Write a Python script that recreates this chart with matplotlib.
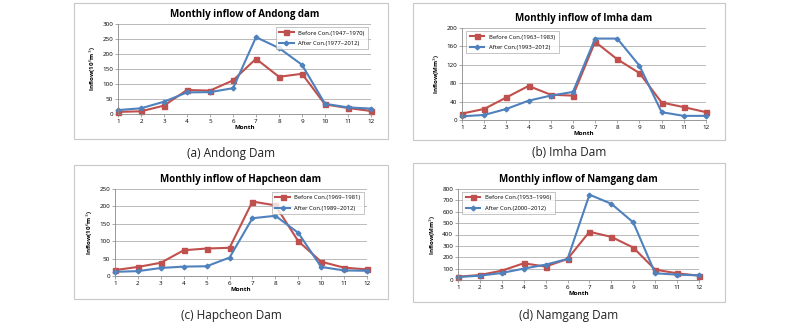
import matplotlib.pyplot as plt
from matplotlib.patches import Rectangle
import numpy as np

plt.rcParams['font.family'] = ['Open Sans', 'DejaVu Sans']

months = np.arange(1, 13)

andong_before = [7, 9, 28, 80, 78, 112, 184, 124, 134, 32, 20, 10]
andong_after = [13, 19, 41, 72, 73, 86, 256, 220, 164, 34, 22, 18]
imha_before = [14, 24, 49, 74, 55, 53, 170, 132, 102, 38, 28, 17]
imha_after = [8, 11, 24, 42, 53, 61, 177, 177, 118, 17, 9, 9]
hapcheon_before = [17, 26, 38, 74, 79, 81, 214, 203, 100, 41, 24, 19]
hapcheon_after = [12, 14, 23, 27, 28, 53, 166, 173, 124, 26, 16, 15]
namgang_before = [29, 44, 82, 147, 118, 185, 424, 379, 285, 91, 59, 38]
namgang_after = [26, 38, 62, 100, 135, 185, 750, 670, 506, 59, 47, 41]

red = '#C0504D'
blue = '#4F81BD'

W, H = 800, 324
fig = plt.figure(figsize=(8, 3.24), dpi=100)

# (axes px box, frame px box, title, caption, legend labels, ylabel, ylim, yticks, legend loc, data)
panels = [
    ((118, 24, 371, 114), (74, 3, 388, 139), 'Monthly inflow of Andong dam', '(a) Andong Dam',
     ('Before Con.(1947~1970)', 'After Con.(1977~2012)'), 'Inflow(10$^6$m$^3$)',
     300, np.arange(0, 301, 50), 'upper right', andong_before, andong_after),
    ((462, 28, 706, 120), (413, 3, 725, 140), 'Monthly inflow of Imha dam', '(b) Imha Dam',
     ('Before Con.(1963~1983)', 'After Con.(1993~2012)'), 'Inflow(Mm$^3$)',
     200, np.arange(0, 201, 40), 'upper left', imha_before, imha_after),
    ((115, 189, 367, 276), (74, 165, 388, 299), 'Monthly inflow of Hapcheon dam', '(c) Hapcheon Dam',
     ('Before Con.(1969~1981)', 'After Con.(1989~2012)'), 'Inflow(10$^6$m$^3$)',
     250, np.arange(0, 251, 50), 'upper right', hapcheon_before, hapcheon_after),
    ((458, 189, 699, 280), (413, 163, 725, 302), 'Monthly inflow of Namgang dam', '(d) Namgang Dam',
     ('Before Con.(1953~1996)', 'After Con.(2000~2012)'), 'Inflow(Mm$^3$)',
     800, np.arange(0, 801, 100), 'upper left', namgang_before, namgang_after),
]

for (ax_box, fr_box, title, caption, labels, ylabel, ymax, yticks, loc, before, after) in panels:
    x0, y0, x1, y1 = fr_box
    fig.patches.append(Rectangle((x0 / W, 1 - y1 / H), (x1 - x0) / W, (y1 - y0) / H,
                                 transform=fig.transFigure, fill=False,
                                 edgecolor='#c8c8c8', linewidth=0.8))
    a0, b0, a1, b1 = ax_box
    ax = fig.add_axes([a0 / W, 1 - b1 / H, (a1 - a0) / W, (b1 - b0) / H])
    ax.plot(months, before, color=red, marker='s', markersize=3.6, linewidth=1.5,
            label=labels[0], clip_on=False)
    ax.plot(months, after, color=blue, marker='D', markersize=2.4, linewidth=1.5,
            label=labels[1], clip_on=False)
    ax.set_xlim(1, 12)
    ax.set_ylim(0, ymax)
    ax.set_xticks(months)
    ax.set_yticks(yticks)
    ax.grid(axis='y', color='#b0b0b0', linewidth=0.6)
    ax.set_axisbelow(True)
    for s in ['top', 'right']:
        ax.spines[s].set_visible(False)
    for s in ['left', 'bottom']:
        ax.spines[s].set_color('#888888')
        ax.spines[s].set_linewidth(0.6)
    ax.tick_params(labelsize=4.5, length=2, width=0.5, color='#888888', pad=1.5)
    ax.set_xlabel('Month', fontsize=4.5, fontweight='bold', labelpad=1)
    ax.set_ylabel(ylabel, fontsize=4.5, fontweight='bold', labelpad=3)
    ax.set_title(title, fontsize=7, fontweight='bold', pad=5)
    leg = ax.legend(loc=loc, fontsize=4.2, frameon=True, fancybox=False,
                    edgecolor='#999999', borderpad=0.6, labelspacing=0.9,
                    handlelength=2.5, bbox_to_anchor=(0.005, 1.0) if loc == 'upper left' else (1.0, 1.0))
    leg.get_frame().set_linewidth(0.5)
    fig.text((x0 + x1) / 2 / W, 1 - 153 / H if y1 < 200 else 1 - 315 / H, caption,
             fontsize=8.5, ha='center', va='center', color='#222222')

fig.savefig('out.png', dpi=100)
